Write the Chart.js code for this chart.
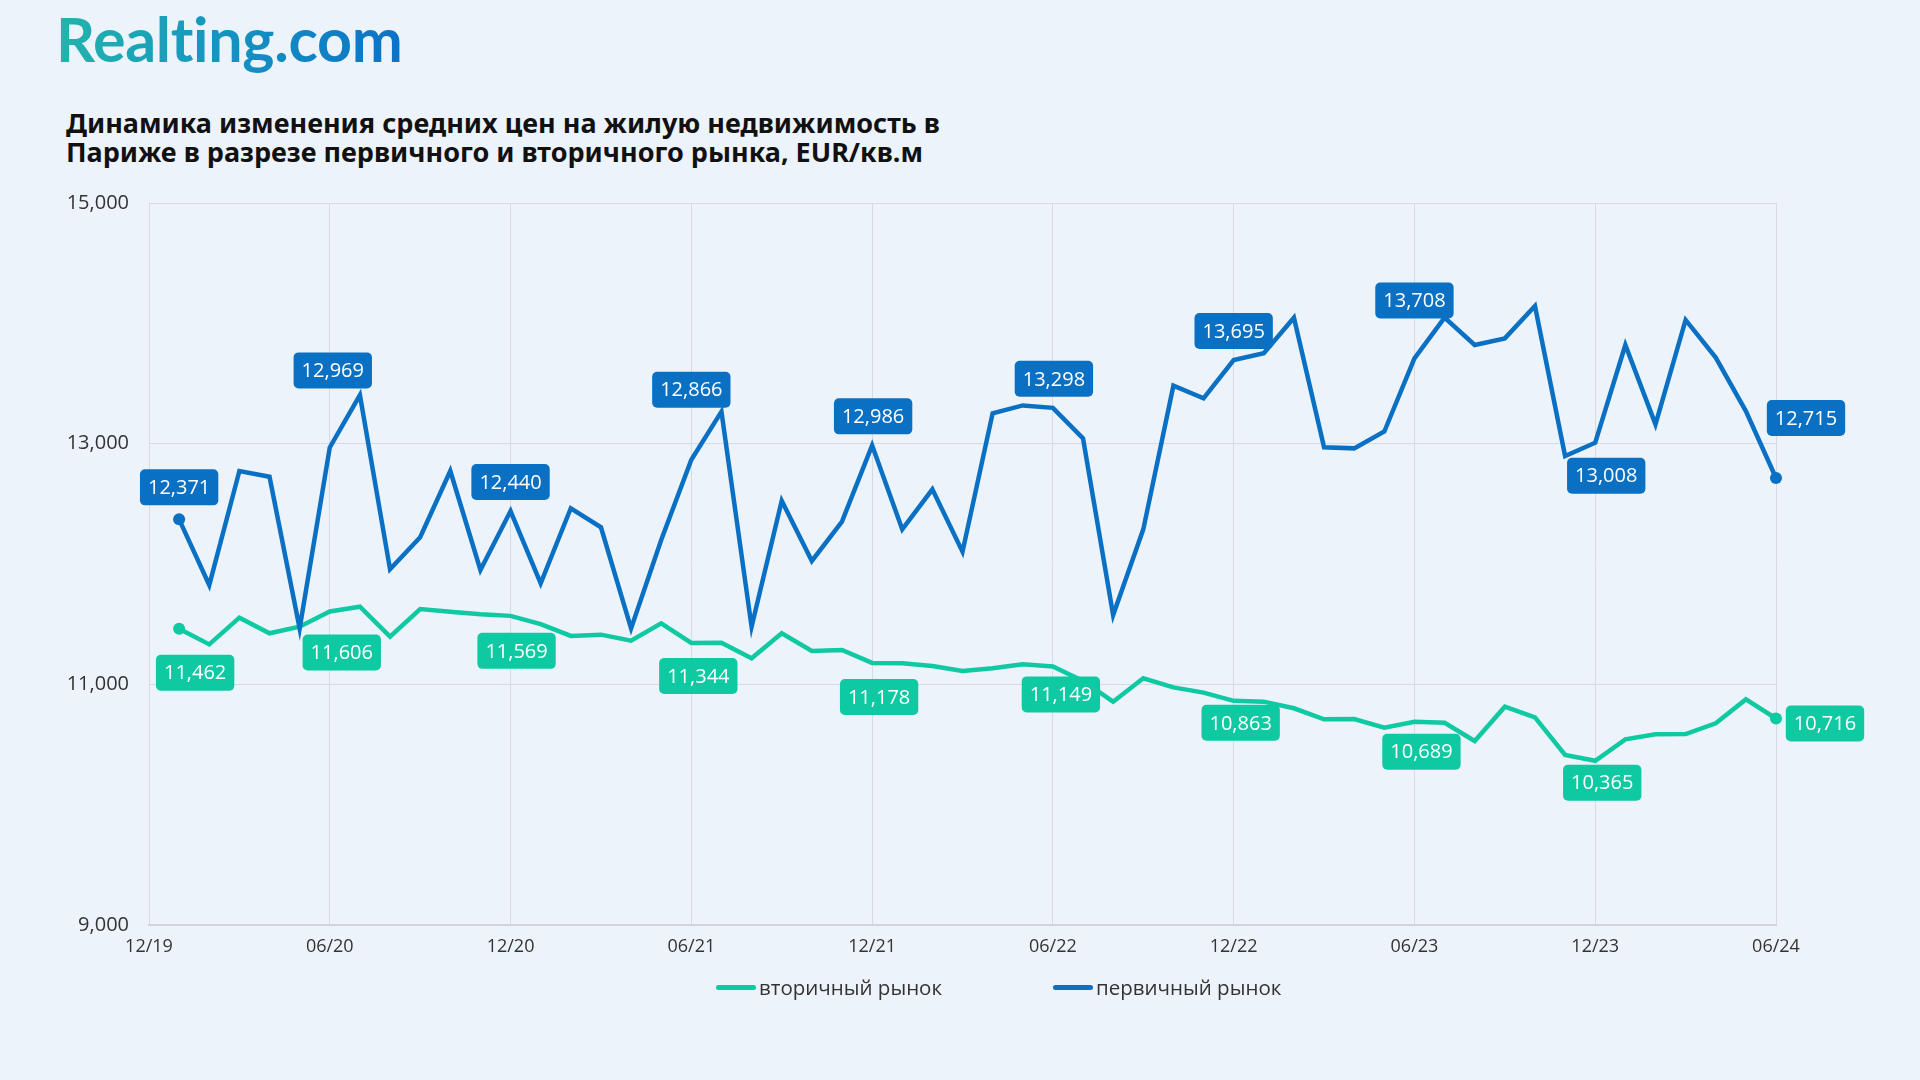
<!DOCTYPE html>
<html lang="ru">
<head>
<meta charset="utf-8">
<title>Realting.com — цены на жильё в Париже</title>
<script src="https://cdn.jsdelivr.net/npm/chart.js@4.4.1/dist/chart.umd.min.js"></script>
<style>
  html, body { margin: 0; padding: 0; background: #edf3fa; }
  body { width: 1920px; height: 1080px; position: relative; overflow: hidden; }
  #logo {
    position: absolute; left: 56px; top: 2px;
    font: 700 61px Lato, sans-serif; letter-spacing: -0.3px;
    background: linear-gradient(90deg, #23b4ab 0%, #1596c0 45%, #0b72c8 100%);
    -webkit-background-clip: text; background-clip: text; color: transparent;
  }
  #title {
    position: absolute; left: 66px; top: 108px;
    font: 700 27px "Noto Sans", sans-serif; line-height: 29px; color: #111;
  }
  #chart { position: absolute; left: 0; top: 0; }
  #legend {
    position: absolute; left: 716px; top: 973px; display: flex; gap: 111px;
    font: 20.5px "Open Sans", sans-serif; color: #333;
  }
  #legend .item { display: flex; align-items: center; }
  #legend .bar { width: 40px; height: 5px; border-radius: 3px; margin-right: 3px; }
</style>
</head>
<body>
<div id="logo">Realting.com</div>
<div id="title">Динамика изменения средних цен на жилую недвижимость в<br>Париже в разрезе первичного и вторичного рынка, EUR/кв.м</div>
<canvas id="chart" width="1920" height="1080"></canvas>
<div id="legend"></div>
<script>
// месяцы (ось X)
const months = [
  "12/19",
  "01/20", "02/20", "03/20", "04/20", "05/20", "06/20", "07/20", "08/20", "09/20", "10/20", "11/20", "12/20",
  "01/21", "02/21", "03/21", "04/21", "05/21", "06/21", "07/21", "08/21", "09/21", "10/21", "11/21", "12/21",
  "01/22", "02/22", "03/22", "04/22", "05/22", "06/22", "07/22", "08/22", "09/22", "10/22", "11/22", "12/22",
  "01/23", "02/23", "03/23", "04/23", "05/23", "06/23", "07/23", "08/23", "09/23", "10/23", "11/23", "12/23",
  "01/24", "02/24", "03/24", "04/24", "05/24", "06/24"
];

// вторичный рынок, EUR/кв.м
const secondary = [
  null,
  11462, 11332, 11554, 11424, 11479, 11606, 11645, 11396, 11626, 11604, 11582, 11569,
  11501, 11402, 11413, 11363, 11507, 11344, 11346, 11216, 11424, 11277, 11285, 11178,
  11175, 11152, 11111, 11133, 11166, 11149, 11028, 10856, 11050, 10975, 10931, 10863,
  10856, 10801, 10709, 10712, 10640, 10689, 10681, 10529, 10814, 10726, 10413, 10365,
  10543, 10585, 10587, 10676, 10875, 10716
];

// первичный рынок, EUR/кв.м
const primary = [
  null,
  12371, 11825, 12773, 12725, 11465, 12969, 13404, 11956, 12222, 12773, 11950, 12440,
  11839, 12463, 12305, 11465, 12199, 12866, 13266, 11479, 12526, 12025, 12352, 12986,
  12288, 12621, 12103, 13252, 13318, 13298, 13044, 11576, 12288, 13482, 13377, 13695,
  13751, 14047, 12970, 12961, 13101, 13708, 14047, 13820, 13875, 14144, 12897, 13008,
  13820, 13161, 14028, 13715, 13271, 12715
];

const yTicks = [9000, 11000, 13000, 15000];

const GREEN = "#0fc9a2";
const BLUE = "#0a70c4";
const GRID = "#d6dbe1";

// подписи значений: индекс точки -> сдвиг плашки [dx, dy]
const secondaryBoxes = {1: [16, 44], 6: [12, 41], 12: [6, 35], 18: [7, 33], 24: [7, 34],
  30: [8, 28], 36: [7, 22], 42: [7, 30], 48: [7, 22], 54: [49, 5]};
const primaryBoxes = {1: [0, -32], 6: [3, -77], 12: [0, -29], 18: [0, -70], 24: [1, -29],
  30: [1, -29], 36: [0, -29], 42: [0, -58], 48: [11, 33], 54: [30, -60]};

const boxStyle = { font: '20px "Open Sans"', padX: 8, height: 36, radius: 5 };

const valueBoxes = {
  id: "valueBoxes",
  afterDatasetsDraw(chart) {
    const ctx = chart.ctx;
    chart.data.datasets.forEach((ds, di) => {
      const meta = chart.getDatasetMeta(di);
      const shifts = ds.valueBoxes || {};
      Object.keys(shifts).forEach(k => {
        const i = Number(k);
        const pt = meta.data[i];
        const v = ds.data[i];
        if (!pt || v == null) return;
        const text = v.toLocaleString("en-US");
        ctx.save();
        ctx.font = boxStyle.font;
        const w = ctx.measureText(text).width + boxStyle.padX * 2;
        const h = boxStyle.height;
        const cx = pt.x + shifts[k][0];
        const cy = pt.y + shifts[k][1];
        ctx.fillStyle = ds.borderColor;
        ctx.beginPath();
        ctx.roundRect(cx - w / 2, cy - h / 2, w, h, boxStyle.radius);
        ctx.fill();
        ctx.fillStyle = "#ffffff";
        ctx.textAlign = "center";
        ctx.textBaseline = "middle";
        ctx.fillText(text, cx, cy + 1);
        ctx.restore();
      });
    });
  }
};

const lastIndex = months.length - 1;
const edgeDot = c => (c.dataIndex === 1 || c.dataIndex === lastIndex) ? 6 : 0;

const chart = new Chart(document.getElementById("chart"), {
  type: "line",
  data: {
    labels: months,
    datasets: [
      {
        label: "вторичный рынок",
        data: secondary,
        valueBoxes: secondaryBoxes,
        borderColor: GREEN,
        backgroundColor: GREEN,
        borderWidth: 4.5,
        pointRadius: edgeDot,
        pointBorderWidth: 0,
        order: 1
      },
      {
        label: "первичный рынок",
        data: primary,
        valueBoxes: primaryBoxes,
        borderColor: BLUE,
        backgroundColor: BLUE,
        borderWidth: 4.5,
        pointRadius: edgeDot,
        pointBorderWidth: 0,
        order: 0
      }
    ]
  },
  options: {
    responsive: false,
    animation: false,
    layout: { padding: { left: 40, right: 144, top: 203, bottom: 112 } },
    plugins: {
      legend: { display: false },
      tooltip: { enabled: false }
    },
    scales: {
      x: {
        offset: false,
        afterFit: s => { s.height = 43; },
        grid: {
          drawTicks: false,
          color: c => (c.index % 6 === 0 ? GRID : "rgba(0,0,0,0)")
        },
        border: { color: "#cfd5db", width: 2 },
        ticks: {
          autoSkip: false,
          maxRotation: 0,
          padding: 11,
          color: "#333",
          font: { family: "Open Sans", size: 18 },
          callback: (v, i) => (i % 6 === 0 ? months[i] : "")
        }
      },
      y: {
        min: yTicks[0],
        max: yTicks[yTicks.length - 1],
        afterFit: s => { s.width = 109; },
        afterBuildTicks: s => { s.ticks = yTicks.map(v => ({ value: v })); },
        grid: { drawTicks: false, color: GRID },
        border: { color: GRID },
        ticks: {
          padding: 20,
          color: "#333",
          font: { family: "Open Sans", size: 20 },
          callback: v => v.toLocaleString("en-US")
        }
      }
    }
  },
  plugins: [valueBoxes]
});

// легенда по наборам данных
const legend = document.getElementById("legend");
chart.data.datasets.forEach(ds => {
  const item = document.createElement("div");
  item.className = "item";
  const bar = document.createElement("span");
  bar.className = "bar";
  bar.style.background = ds.borderColor;
  const txt = document.createElement("span");
  txt.textContent = ds.label;
  item.appendChild(bar);
  item.appendChild(txt);
  legend.appendChild(item);
});
</script>
</body>
</html>
